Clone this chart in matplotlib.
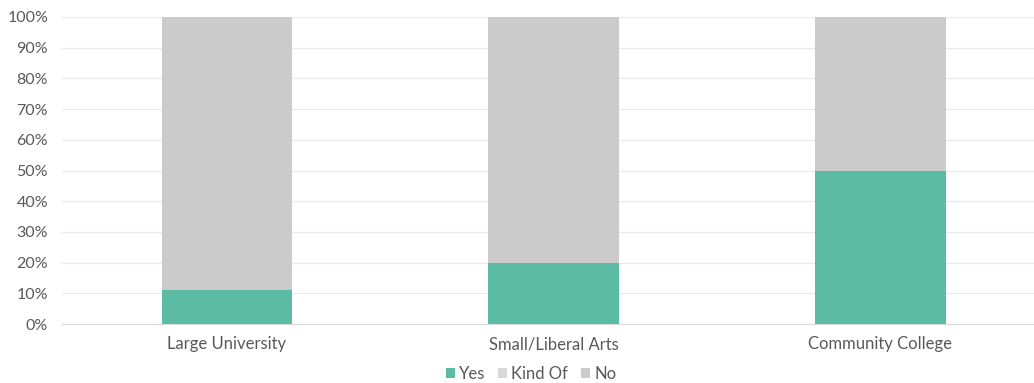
import matplotlib
matplotlib.use("Agg")
import matplotlib.pyplot as plt
from matplotlib.ticker import PercentFormatter

categories = ["Large University", "Small/Liberal Arts", "Community College"]
yes = [11, 20, 50]
kind_of = [0, 0, 0]
no = [89, 80, 50]
series_names = ["Yes", "Kind Of", "No"]
colors = ["#5BBBA3", "#D9D9D9", "#CBCBCB"]

plt.rcParams['font.family'] = ['Lato', 'DejaVu Sans']
fig = plt.figure(figsize=(10.34, 3.83), dpi=100)
ax = fig.add_axes([62/1034, 1 - 324/383, 1 - 62/1034, 307/383])

x = list(range(len(categories)))
w = 0.4
bottom = [0]*len(x)
for vals, name, c in zip([yes, kind_of, no], series_names, colors):
    ax.bar(x, vals, width=w, bottom=bottom, color=c, label=name, zorder=3)
    bottom = [b + v for b, v in zip(bottom, vals)]

ax.set_ylim(0, 100)
ax.set_xlim(-0.505, 2.47)
ax.set_yticks(range(0, 101, 10))
ax.yaxis.set_major_formatter(PercentFormatter(decimals=0))
ax.set_xticks(x)
ax.set_xticklabels(categories)
ax.tick_params(axis='y', length=0, colors="#595959", labelsize=11.5, pad=10)
ax.tick_params(axis='x', length=0, colors="#595959", labelsize=12, pad=9)
ax.grid(axis='y', color="#EAEAEA", linewidth=0.9, zorder=0)
for s in ["top", "right", "left"]:
    ax.spines[s].set_visible(False)
ax.spines["bottom"].set_color("#DADADA")
ax.spines["bottom"].set_zorder(4)

leg = fig.legend(loc="center", bbox_to_anchor=(531/1034, 1 - 374/383), ncol=3, frameon=False,
                 handlelength=0.55, handleheight=0.55, handletextpad=0.25, columnspacing=0.75,
                 fontsize=12)
for t in leg.get_texts():
    t.set_color("#595959")

fig.savefig("out.png", dpi=100)
